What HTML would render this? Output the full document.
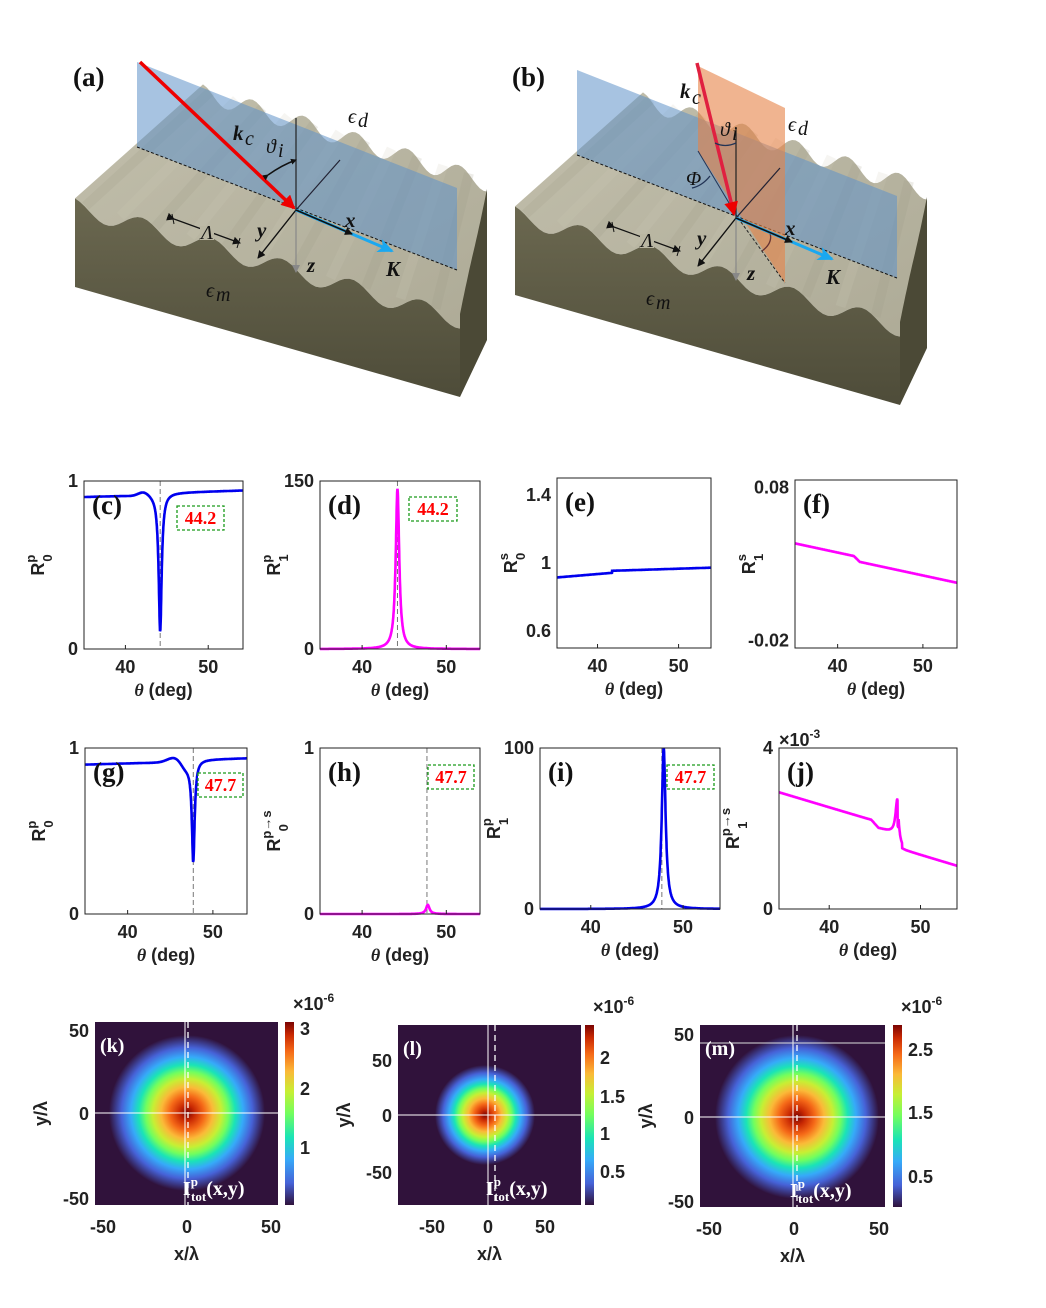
<!DOCTYPE html>
<html><head><meta charset="utf-8"><style>
body{margin:0;background:#fff}
svg{display:block}
.t{font-family:"Liberation Sans",sans-serif;font-weight:bold;font-size:18px;fill:#222}
.pl{font-family:"Liberation Serif",serif;font-weight:bold;font-size:27px;fill:#111}
.it{font-family:"Liberation Serif",serif;font-style:italic;font-size:20px;fill:#111}
.bi{font-family:"Liberation Serif",serif;font-style:italic;font-weight:bold;font-size:21px;fill:#111}
.rl{font-family:"Liberation Serif",serif;font-weight:bold;font-size:18px;fill:#f00}
.wl{font-family:"Liberation Serif",serif;font-weight:bold;font-size:20px;fill:#fff}
</style></head><body>
<svg id="s" width="1046" height="1308" viewBox="0 0 1046 1308" xmlns="http://www.w3.org/2000/svg">
<defs>
<linearGradient id="front" x1="0" y1="0" x2="0" y2="1"><stop offset="0" stop-color="#6b6850"/><stop offset="1" stop-color="#4e4c39"/></linearGradient>
<linearGradient id="top" x1="0" y1="0" x2="1" y2="1"><stop offset="0" stop-color="#c2bfac"/><stop offset="1" stop-color="#aeab97"/></linearGradient>
<linearGradient id="cb" x1="0" y1="1" x2="0" y2="0"><stop offset="0" stop-color="#30123b"/><stop offset=".12" stop-color="#4662d7"/><stop offset=".25" stop-color="#36aaf9"/><stop offset=".37" stop-color="#1ae4b6"/><stop offset=".5" stop-color="#72fe5e"/><stop offset=".62" stop-color="#c7ef34"/><stop offset=".73" stop-color="#fbb938"/><stop offset=".84" stop-color="#f56918"/><stop offset=".93" stop-color="#c92903"/><stop offset="1" stop-color="#7a0403"/></linearGradient>
<radialGradient id="hm"><stop offset="0" stop-color="#7a0403"/><stop offset=".1" stop-color="#c92903"/><stop offset=".22" stop-color="#f56918"/><stop offset=".33" stop-color="#fbb938"/><stop offset=".44" stop-color="#c7ef34"/><stop offset=".53" stop-color="#72fe5e"/><stop offset=".62" stop-color="#1ae4b6"/><stop offset=".72" stop-color="#36aaf9"/><stop offset=".84" stop-color="#4662d7"/><stop offset="1" stop-color="#30123b"/></radialGradient>
<marker id="ab" markerWidth="8" markerHeight="8" refX="7" refY="4" orient="auto" markerUnits="userSpaceOnUse"><path d="M0,0 L8,4 L0,8 z" fill="#111"/></marker>
<marker id="ag" markerWidth="8" markerHeight="8" refX="7" refY="4" orient="auto" markerUnits="userSpaceOnUse"><path d="M0,0 L8,4 L0,8 z" fill="#888"/></marker>
<marker id="ar" markerWidth="14" markerHeight="14" refX="12" refY="7" orient="auto" markerUnits="userSpaceOnUse"><path d="M0,0 L14,7 L0,14 z" fill="#e00"/></marker>
<marker id="ac" markerWidth="16" markerHeight="14" refX="14" refY="7" orient="auto" markerUnits="userSpaceOnUse"><path d="M0,0 L16,7 L0,14 L4,7 z" fill="#1aa8f0"/></marker>
<marker id="as" markerWidth="6" markerHeight="6" refX="5" refY="3" orient="auto" markerUnits="userSpaceOnUse"><path d="M0,0 L6,3 L0,6 z" fill="#111"/></marker>
</defs>
<g id="blocks"></g>
<g id="plots"></g>
</svg>
<script>
var NS="http://www.w3.org/2000/svg";
function el(p,t,a,txt){var e=document.createElementNS(NS,t);for(var k in a)e.setAttribute(k,a[k]);if(txt!==undefined)e.textContent=txt;p.appendChild(e);return e;}
function wavePts(x0,y0,x1,y1,per,amp,ph,n){var r=[];n=n||80;for(var i=0;i<=n;i++){var f=i/n;r.push([x0+(x1-x0)*f,y0+(y1-y0)*f-amp*Math.cos(2*Math.PI*per*f+ph)]);}return r;}
function pts(a){return a.map(function(p){return p[0].toFixed(1)+","+p[1].toFixed(1)}).join(" ");}
var B=document.getElementById("blocks");
function block(dx,dy,b){
 var g=el(B,"g",{transform:"translate("+dx+","+dy+")"});
 var fw=wavePts(75,207,460,320,5.5,9,0.3);
 var bw=wavePts(203,93,487,183,5.5,9,0.3);
 el(g,"polygon",{points:pts(fw.concat(bw.slice().reverse())),fill:"url(#top)"});
 for(var i=0;i<11;i++){var f=(i+0.3)/11;var a=[75+(460-75)*f,207+(320-207)*f],c=[203+(487-203)*f,93+(183-93)*f];
  el(g,"line",{x1:a[0],y1:a[1]-4,x2:c[0],y2:c[1]-4,stroke:i%2?"#cfccb9":"#9d9a86","stroke-width":10,opacity:.18});}
 el(g,"polygon",{points:pts(fw.concat([[460,397],[75,287]])),fill:"url(#front)"});
 var rp=wavePts(460,320,487,183,0.5,6,0,20);
 el(g,"polygon",{points:pts(rp.concat([[487,340],[460,397]])),fill:"#4b4936"});
 if(!b){
  el(g,"polygon",{points:"137,62 457,188 457,270 137,147",fill:"rgba(95,145,200,0.55)"});
  el(g,"line",{x1:137,y1:147,x2:457,y2:270,stroke:"#111","stroke-width":1,"stroke-dasharray":"3,2"});
  el(g,"line",{x1:296,y1:118,x2:296,y2:210,stroke:"#222","stroke-width":1.2});
  el(g,"line",{x1:296,y1:210,x2:340,y2:160,stroke:"#223","stroke-width":1.2});
  el(g,"line",{x1:140,y1:62,x2:294,y2:208,stroke:"#e00","stroke-width":3.5,"marker-end":"url(#ar)"});
  el(g,"path",{d:"M268,175 Q282,165 296,160",fill:"none",stroke:"#111","stroke-width":1.5,"marker-end":"url(#as)","marker-start":"url(#as)"});
  el(g,"text",{x:233,y:140,"class":"bi"},"k");el(g,"text",{x:245,y:145,"class":"it","font-size":"14"},"c");
  el(g,"text",{x:266,y:153,"class":"it","font-size":"18"},"ϑ");el(g,"text",{x:278,y:157,"class":"it","font-size":"12"},"i");
 } else {
  el(g,"polygon",{points:"137,62 457,188 457,270 137,147",fill:"rgba(95,145,200,0.55)"});
  el(g,"line",{x1:137,y1:147,x2:457,y2:270,stroke:"#111","stroke-width":1,"stroke-dasharray":"3,2"});
  el(g,"polygon",{points:"258,58 345,100 345,275 258,143",fill:"rgba(230,130,70,0.6)"});
  el(g,"line",{x1:298,y1:210,x2:345,y2:275,stroke:"#222","stroke-width":1,"stroke-dasharray":"3,2"});
  el(g,"line",{x1:258,y1:143,x2:298,y2:210,stroke:"#235","stroke-width":1});
  el(g,"line",{x1:296,y1:120,x2:296,y2:210,stroke:"#222","stroke-width":1.2});
  el(g,"line",{x1:296,y1:210,x2:340,y2:160,stroke:"#223","stroke-width":1.2});
  el(g,"line",{x1:257,y1:55,x2:294,y2:206,stroke:"#e02040","stroke-width":3.5,"marker-end":"url(#ar)"});
  el(g,"path",{d:"M275,135 Q285,140 296,135",fill:"none",stroke:"#235","stroke-width":1.3});
  el(g,"path",{d:"M252,180 Q262,178 270,168",fill:"none",stroke:"#235","stroke-width":1.3});
  el(g,"path",{d:"M322,243 Q333,235 330,225",fill:"none",stroke:"#633","stroke-width":1.3});
  el(g,"text",{x:240,y:90,"class":"bi"},"k");el(g,"text",{x:252,y:96,"class":"it","font-size":"14"},"c");
  el(g,"text",{x:280,y:128,"class":"it","font-size":"18"},"ϑ");el(g,"text",{x:292,y:132,"class":"it","font-size":"12"},"i");
  el(g,"text",{x:246,y:177,"class":"it","font-size":"18","font-style":"normal"},"Φ");
 }
 el(g,"line",{x1:296,y1:210,x2:296,y2:272,stroke:"#888","stroke-width":1.2,"marker-end":"url(#ag)"});
 el(g,"line",{x1:296,y1:210,x2:258,y2:258,stroke:"#111","stroke-width":1.4,"marker-end":"url(#ab)"});
 el(g,"line",{x1:296,y1:210,x2:392,y2:251,stroke:"#1aa8f0","stroke-width":3,"marker-end":"url(#ac)"});
 el(g,"line",{x1:296,y1:210,x2:352,y2:234,stroke:"#111","stroke-width":1.6,"marker-end":"url(#ab)"});
 el(g,"line",{x1:174,y1:219,x2:240,y2:243,stroke:"#111","stroke-width":1.2,"marker-end":"url(#ab)","marker-start":"url(#ab)"});
 el(g,"line",{x1:172,y1:214,x2:174,y2:224,stroke:"#111"});el(g,"line",{x1:240,y1:238,x2:237,y2:248,stroke:"#111"});
 el(g,"rect",{x:200,y:226,width:14,height:14,fill:"#b9b6a2"});
 el(g,"text",{x:201,y:239,"class":"it","font-style":"normal","font-size":"18"},"Λ");
 el(g,"text",{x:348,y:123,"class":"it"},"ϵ");el(g,"text",{x:358,y:127,"class":"it","font-size":"15"},"d");
 el(g,"text",{x:206,y:297,"class":"it"},"ϵ");el(g,"text",{x:216,y:301,"class":"it","font-size":"15"},"m");
 el(g,"text",{x:345,y:227,"class":"bi"},"x");
 el(g,"text",{x:257,y:237,"class":"bi"},"y");
 el(g,"text",{x:307,y:272,"class":"bi"},"z");
 el(g,"text",{x:386,y:276,"class":"bi"},"K");
}
block(0,0,false);block(440,8,true);
var S=document.getElementById("s");
el(S,"text",{x:73,y:86,"class":"pl"},"(a)");
el(S,"text",{x:512,y:86,"class":"pl"},"(b)");

var P=document.getElementById("plots");
function plot(o){
 var g=el(P,"g",{});
 var X=function(t){return o.x0+(t-o.t0)*(o.x1-o.x0)/(o.t1-o.t0);};
 var Y=function(v){return o.yb+(v-o.v0)*(o.yt-o.yb)/(o.v1-o.v0);};
 if(o.dash) el(g,"line",{x1:X(o.dash),y1:o.yt,x2:X(o.dash),y2:o.yb,stroke:"#777","stroke-dasharray":"5,3","stroke-width":1});
 var a=[];for(var t=o.t0;t<=o.t1+1e-9;t+=0.02){a.push([X(t),Math.max(o.yt,Math.min(o.yb,Y(o.f(t))))]);}
 el(g,"polyline",{points:pts(a),fill:"none",stroke:o.c,"stroke-width":2.6});
 el(g,"rect",{x:o.x0,y:o.yt,width:o.x1-o.x0,height:o.yb-o.yt,fill:"none",stroke:"#222","stroke-width":1});
 o.xt.forEach(function(t){el(g,"line",{x1:X(t),y1:o.yb,x2:X(t),y2:o.yb-4,stroke:"#222"});el(g,"text",{x:X(t),y:o.yb+24,"class":"t","text-anchor":"middle"},t);});
 o.yl.forEach(function(v){el(g,"text",{x:o.x0-6,y:Y(v[0])+6,"class":"t","text-anchor":"end"},v[1]);});
 el(g,"text",{x:(o.x0+o.x1)/2,y:o.yb+47,"class":"t","text-anchor":"middle"},"").innerHTML='<tspan font-family="Liberation Serif" font-style="italic">θ</tspan> (deg)';
 var lx=o.x0-40,ly=(o.yt+o.yb)/2;
 var tg=el(g,"text",{x:lx,y:ly,"class":"t","font-family":"Liberation Serif","font-size":"20",transform:"rotate(-90 "+lx+" "+ly+")","text-anchor":"middle"},"");
 tg.innerHTML='R<tspan font-size="13" dy="-9">'+o.sup+'</tspan><tspan font-size="13" dx="'+(-o.sup.length*7)+'" dy="17">'+o.sub+'</tspan>';
 el(g,"text",{x:o.x0+8,y:o.yt+33,"class":"pl"},o.lab);
 if(o.box){el(g,"rect",{x:o.box[0],y:o.box[1],width:o.box[2],height:24,fill:"#fff",stroke:"#1a9a1a","stroke-dasharray":"3,2","stroke-width":1.3});
  el(g,"text",{x:o.box[0]+o.box[2]/2,y:o.box[1]+18,"class":"rl","text-anchor":"middle"},o.box[3]);}
}
function L(t,c,w){return 1/(1+Math.pow((t-c)/w,2));}
function G(t,c,w){return Math.exp(-Math.pow((t-c)/w,2));}
plot({x0:84,x1:243,yt:481,yb:649,t0:35,t1:54.2,v0:0,v1:1,c:"#0000ee",dash:44.2,xt:[40,50],yl:[[1,"1"],[0,"0"]],sup:"p",sub:"0",lab:"(c)",box:[177,506,47,"44.2"],
 f:function(t){return 0.905+0.0015*(t-35)+0.025*G(t,42.2,0.9)-0.82*L(t,44.2,0.22)+0.01*(t>44.2?1:0);}});
plot({x0:320,x1:480,yt:481,yb:649,t0:35,t1:54,v0:0,v1:150,c:"#ff00ff",dash:44.2,xt:[40,50],yl:[[150,"150"],[0,"0"]],sup:"p",sub:"1",lab:"(d)",box:[409,497,48,"44.2"],
 f:function(t){return 143*L(t,44.2,0.25);}});
plot({x0:557,x1:711,yt:478,yb:648,t0:35,t1:54,v0:0.5,v1:1.5,c:"#0000ee",xt:[40,50],yl:[[1.4,"1.4"],[1,"1"],[0.6,"0.6"]],sup:"s",sub:"0",lab:"(e)",
 f:function(t){return 0.915+0.004*(t-35)-0.004*Math.max(0,t-41.8)+0.012*(t>41.8?1:0)+0.0015*Math.max(0,t-41.8);}});
plot({x0:795,x1:957,yt:480,yb:648,t0:35,t1:54,v0:-0.025,v1:0.085,c:"#ff00ff",xt:[40,50],yl:[[0.08,"0.08"],[-0.02,"-0.02"]],sup:"s",sub:"1",lab:"(f)",
 f:function(t){return 0.0435-0.0012*(t-35)-0.003*(t>41.9?Math.min(1,(t-41.9)/0.7):0);}});
plot({x0:85,x1:247,yt:748,yb:914,t0:35,t1:54,v0:0,v1:1,c:"#0000ee",dash:47.7,xt:[40,50],yl:[[1,"1"],[0,"0"]],sup:"p",sub:"0",lab:"(g)",box:[198,773,45,"47.7"],
 f:function(t){return 0.9+0.0015*(t-35)+0.03*G(t,45.5,1.2)-0.6*L(t,47.7,0.2)-0.04*G(t,46.8,0.8)+0.01*(t>47.7?1:0);}});
plot({x0:320,x1:480,yt:748,yb:914,t0:35,t1:54,v0:0,v1:1,c:"#ff00ff",dash:47.7,xt:[40,50],yl:[[1,"1"],[0,"0"]],sup:"p→s",sub:"0",lab:"(h)",box:[428,765,46,"47.7"],
 f:function(t){return 0.055*L(t,47.8,0.25);}});
plot({x0:540,x1:720,yt:748,yb:909,t0:34.5,t1:54,v0:0,v1:100,c:"#0000ee",dash:47.7,xt:[40,50],yl:[[100,"100"],[0,"0"]],sup:"p",sub:"1",lab:"(i)",box:[667,765,47,"47.7"],
 f:function(t){return 100*L(t,47.9,0.25);}});
plot({x0:779,x1:957,yt:748,yb:909,t0:34.5,t1:54,v0:0,v1:4,c:"#ff00ff",xt:[40,50],yl:[[4,"4"],[0,"0"]],sup:"p→s",sub:"1",lab:"(j)",
 f:function(t){var v=2.9-0.068*(t-34.5);if(t>44.6)v-=0.15*Math.min(1,(t-44.6)/0.8);v+=0.85*L(t,47.45,0.22)*(t<47.5?1:0.25);if(t>47.6)v-=0.35;if(t>47.6&&t<48)v+=0.85*L(t,47.45,0.22);return v;}});
el(P,"text",{x:779,y:746,"class":"t","font-size":"17"},"").innerHTML='×10<tspan font-size="12" dy="-8">-3</tspan>';

function heat(o){
 var g=el(P,"g",{});
 el(g,"rect",{x:o.x0,y:o.y0,width:o.w,height:o.h,fill:"#30123b"});
 el(g,"ellipse",{cx:o.cx,cy:o.cy,rx:o.r,ry:o.r,fill:"url(#hm)"});
 el(g,"line",{x1:o.x0,y1:o.cy,x2:o.x0+o.w,y2:o.cy,stroke:"#fff","stroke-width":1});
 el(g,"line",{x1:o.vs,y1:o.y0,x2:o.vs,y2:o.y0+o.h,stroke:"#fff","stroke-width":1});
 el(g,"line",{x1:o.vd,y1:o.y0,x2:o.vd,y2:o.y0+o.h,stroke:"#fff","stroke-width":1.3,"stroke-dasharray":"6,4"});
 if(o.hl) el(g,"line",{x1:o.x0,y1:o.hl,x2:o.x0+o.w,y2:o.hl,stroke:"#ddd","stroke-width":1});
 el(g,"rect",{x:o.cbx,y:o.y0,width:9,height:o.h,fill:"url(#cb)"});
 el(g,"text",{x:o.x0+5,y:o.y0+30,"class":"wl","font-size":"25"},o.lab);
 el(g,"text",{x:o.x0+o.w-95,y:o.y0+o.h-10,"class":"wl"},"").innerHTML='I<tspan font-size="13" dy="-9">p</tspan><tspan font-size="13" dx="-7" dy="15">tot</tspan><tspan dy="-6">(x,y)</tspan>';
 o.xt.forEach(function(p){el(g,"text",{x:p[0],y:o.y0+o.h+28,"class":"t","font-size":"20","text-anchor":"middle"},p[1]);});
 o.yt.forEach(function(p){el(g,"text",{x:o.x0-6,y:p[0]+7,"class":"t","font-size":"20","text-anchor":"end"},p[1]);});
 o.ct.forEach(function(p){el(g,"text",{x:o.cbx+15,y:p[0]+7,"class":"t","font-size":"18"},p[1]);});
 el(g,"text",{x:o.cbx+8,y:o.y0-12,"class":"t","font-size":"17"},"").innerHTML='×10<tspan font-size="12" dy="-8">-6</tspan>';
 el(g,"text",{x:o.x0+o.w/2,y:o.y0+o.h+55,"class":"t","font-size":"20","text-anchor":"middle"},"x/λ");
 var lx=o.x0-48,ly=o.y0+o.h/2;
 el(g,"text",{x:lx,y:ly,"class":"t","font-size":"20","text-anchor":"middle",transform:"rotate(-90 "+lx+" "+ly+")"},"y/λ");
}
heat({x0:95,y0:1022,w:183,h:183,cx:187,cy:1113,r:78,vs:185,vd:188,cbx:285,lab:"(k)",xt:[[103,"-50"],[187,"0"],[271,"50"]],yt:[[1030,"50"],[1113,"0"],[1198,"-50"]],ct:[[1028,"3"],[1088,"2"],[1147,"1"]]});
heat({x0:398,y0:1025,w:183,h:180,cx:485,cy:1115,r:50,vs:488,vd:495,cbx:585,lab:"(l)",xt:[[432,"-50"],[488,"0"],[545,"50"]],yt:[[1060,"50"],[1115,"0"],[1172,"-50"]],ct:[[1057,"2"],[1096,"1.5"],[1133,"1"],[1171,"0.5"]]});
heat({x0:700,y0:1025,w:185,h:182,cx:797,cy:1117,r:82,vs:793,vd:797,hl:1043,cbx:893,lab:"(m)",xt:[[709,"-50"],[794,"0"],[879,"50"]],yt:[[1034,"50"],[1117,"0"],[1201,"-50"]],ct:[[1049,"2.5"],[1112,"1.5"],[1176,"0.5"]]});
</script>
</body></html>
